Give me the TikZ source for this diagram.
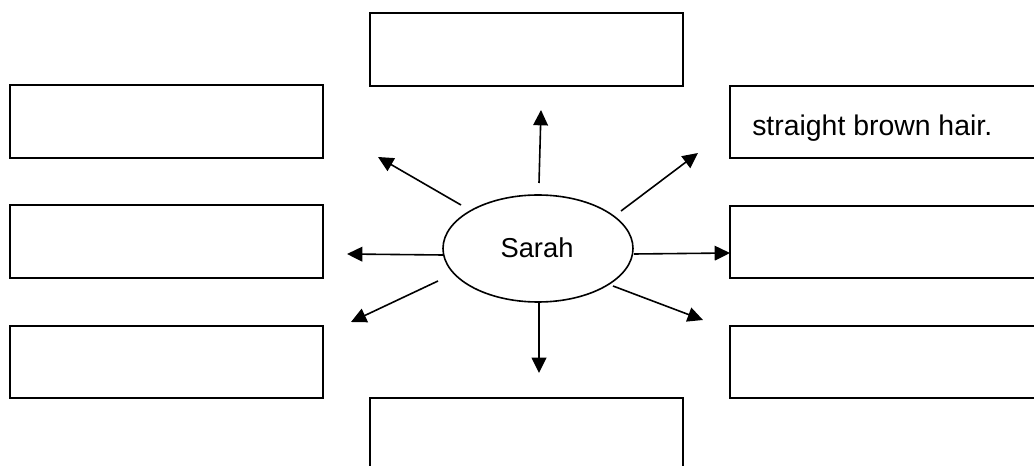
\documentclass[tikz,border=0pt]{standalone}
\usepackage{fontspec}
\setmainfont{Liberation Sans}
\usetikzlibrary{arrows.meta,shapes.geometric}
\begin{document}
\begin{tikzpicture}[x=0.75pt,y=-0.75pt,
  box/.style={draw=black,line width=1.5pt,rectangle,inner sep=0pt,minimum width=313*0.75pt,minimum height=72.5*0.75pt},
  ell/.style={draw=black,line width=1.2pt,ellipse,inner sep=0pt,minimum width=190*0.75pt,minimum height=107*0.75pt},
  conn/.style={line width=1.2pt,-{Triangle[length=11.5pt,width=11pt]}},
  lbl/.style={inner sep=0pt}]
\clip (0,0) rectangle (1034,466);
\fill[white] (0,0) rectangle (1034,466);
% boxes
\node[box] (top) at (526.5,49.5) {};
\node[box] (l1) at (166,121.5) {};
\node[box] (l2) at (166,241.5) {};
\node[box] (l3) at (166,362) {};
\node[box] (r1) at (886.5,122) {};
\node[box] (r2) at (886.5,242) {};
\node[box] (r3) at (886.5,362) {};
\node[box] (bot) at (526.5,434.5) {};
% centre
\node[ell] (sarah) at (538,248.5) {};
\node[lbl,anchor=base,font=\fontsize{20.5}{24}\selectfont] (sarahtxt) at (537,257.3) {Sarah};
\node[lbl,anchor=base west,font=\fontsize{21.3}{25}\selectfont] (hair) at (752,135.7) {straight brown hair.};
% connector ends
\coordinate (su) at (539,183);
\coordinate (eu) at (541,110);
\coordinate (sd) at (539,302);
\coordinate (ed) at (539,373);
\coordinate (sl) at (443,255);
\coordinate (el) at (347,254);
\coordinate (sr) at (634,254);
\coordinate (er) at (730,253);
\coordinate (sul) at (461,205);
\coordinate (eul) at (378,157);
\coordinate (sdl) at (438,281);
\coordinate (edl) at (351,322);
\coordinate (sur) at (621,211);
\coordinate (eur) at (698,153);
\coordinate (sdr) at (613,286);
\coordinate (edr) at (703,320);
\draw[conn] (su) -- (eu);
\draw[conn] (sd) -- (ed);
\draw[conn] (sl) -- (el);
\draw[conn] (sr) -- (er);
\draw[conn] (sul) -- (eul);
\draw[conn] (sdl) -- (edl);
\draw[conn] (sur) -- (eur);
\draw[conn] (sdr) -- (edr);
\end{tikzpicture}
\end{document}
